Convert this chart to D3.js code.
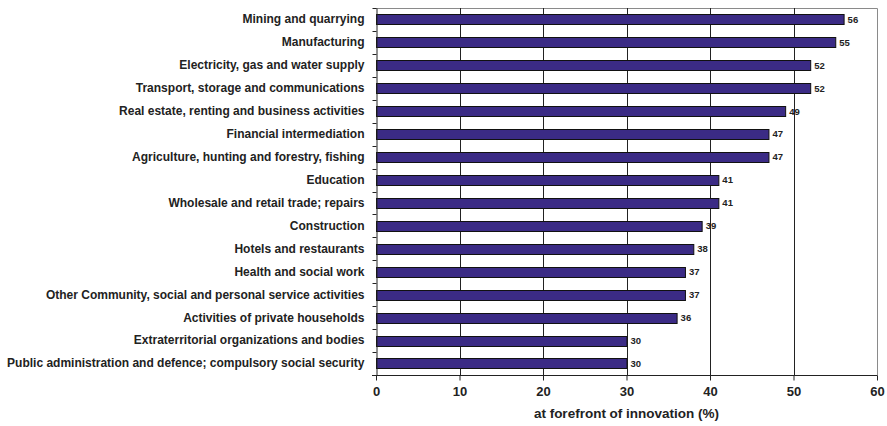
<!DOCTYPE html>
<html>
<head>
<meta charset="utf-8">
<script src="https://cdn.jsdelivr.net/npm/d3@7"></script>
<style>
  body { margin: 0; background: #fff; }
  svg { display: block; font-family: "Liberation Sans", Arial, sans-serif; }
</style>
</head>
<body>
<svg id="chart" width="887" height="426"></svg>
<script>
// Share of firms at the forefront of innovation, by sector
const sectors = [
  "Mining and quarrying",
  "Manufacturing",
  "Electricity, gas and water supply",
  "Transport, storage and communications",
  "Real estate, renting and business activities",
  "Financial intermediation",
  "Agriculture, hunting and forestry, fishing",
  "Education",
  "Wholesale and retail trade; repairs",
  "Construction",
  "Hotels and restaurants",
  "Health and social work",
  "Other Community, social and personal service activities",
  "Activities of private households",
  "Extraterritorial organizations and bodies",
  "Public administration and defence; compulsory social security"
];
const shares = [56, 55, 52, 52, 49, 47, 47, 41, 41, 39, 38, 37, 37, 36, 30, 30];
const xTicks = [0, 10, 20, 30, 40, 50, 60];
const xTitle = "at forefront of innovation (%)";

const svg = d3.select("#chart");
const plotL = 376, plotR = 877, plotT = 8, plotB = 375;
const font = "\"Liberation Sans\", Arial, sans-serif";

const x = d3.scaleLinear().domain([0, 60]).range([plotL, plotR]);
const y = d3.scaleBand().domain(sectors).range([plotT, plotB]).paddingInner(0.56).paddingOuter(0.28);

// plot frame (top and right)
svg.append("path")
  .attr("d", `M${plotL},${plotT + 0.5}H${plotR + 0.5}V${plotB}`)
  .attr("fill", "none").attr("stroke", "#8a8a8a").attr("stroke-width", 1);

// vertical gridlines
svg.append("g").selectAll("line")
  .data(xTicks.filter(t => t > 0 && t < 60))
  .join("line")
  .attr("x1", d => Math.round(x(d)) + 0.5).attr("x2", d => Math.round(x(d)) + 0.5)
  .attr("y1", plotT).attr("y2", plotB)
  .attr("stroke", "#222").attr("stroke-width", 1);

// bars
svg.append("g").selectAll("rect")
  .data(sectors)
  .join("rect")
  .attr("x", x(0) + 0.5)
  .attr("y", d => Math.round(y(d)) + 0.5)
  .attr("width", (d, i) => x(shares[i]) - x(0))
  .attr("height", Math.round(y.bandwidth()))
  .attr("fill", "#3b2b85")
  .attr("stroke", "#111").attr("stroke-width", 1);

// value labels
svg.append("g").selectAll("text")
  .data(sectors)
  .join("text")
  .attr("x", (d, i) => x(shares[i]) + 4)
  .attr("y", d => y(d) + y.bandwidth() / 2)
  .attr("dy", "0.35em")
  .attr("font-size", 9.5).attr("font-weight", "bold").attr("fill", "#222")
  .text((d, i) => d3.format("d")(shares[i]));

// category axis
const yAxis = d3.axisLeft(y).tickSize(0).tickPadding(12);
const gy = svg.append("g").attr("transform", `translate(${plotL + 0.5},0)`).call(yAxis);
gy.select(".domain").attr("stroke", "#222");
gy.selectAll("text").attr("font-size", 12).attr("font-weight", "bold").attr("fill", "#222")
  .attr("font-family", font);
// tick marks between categories
gy.append("g").selectAll("line")
  .data(d3.range(sectors.length + 1))
  .join("line")
  .attr("x1", -4).attr("x2", 0)
  .attr("y1", i => Math.round(plotT + i * (plotB - plotT) / sectors.length) + 0.5)
  .attr("y2", i => Math.round(plotT + i * (plotB - plotT) / sectors.length) + 0.5)
  .attr("stroke", "#222");

// value axis
const xAxis = d3.axisBottom(x).tickValues(xTicks).tickSize(5).tickPadding(6).tickFormat(d3.format("d"));
const gx = svg.append("g").attr("transform", `translate(0,${plotB + 0.5})`).call(xAxis);
gx.select(".domain").attr("d", `M${plotL - 4},0H${plotR + 0.5}`).attr("stroke", "#222");
gx.selectAll(".tick line").attr("stroke", "#222").attr("y1", 0);
gx.selectAll("text").attr("font-size", 13).attr("font-weight", "bold").attr("fill", "#222")
  .attr("font-family", font);

// axis title
svg.append("text")
  .attr("x", (plotL + plotR) / 2).attr("y", 418)
  .attr("text-anchor", "middle")
  .attr("font-size", 13.5).attr("font-weight", "bold").attr("fill", "#222")
  .text(xTitle);
</script>
</body>
</html>
